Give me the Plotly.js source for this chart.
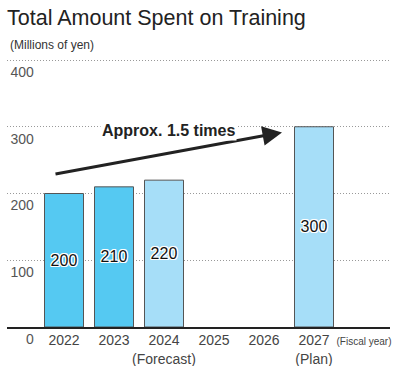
<!DOCTYPE html>
<html>
<head>
<meta charset="utf-8">
<script src="https://cdn.plot.ly/plotly-3.0.1.min.js"></script>
<style>html,body{margin:0;padding:0;background:#fff;}#chart{width:398px;height:366px;}</style>
</head>
<body>
<div id="chart"></div>
<script>
var categories = ['2022', '2023', '2024', '2025', '2026', '2027', 'FY'];
var tickLabels = ['2022', '2023', '2024<br>(Forecast)', '2025', '2026', '2027<br>(Plan)', '<span style="font-size:10px">(Fiscal year)</span>'];
var values = [200, 210, 220, null, null, 300, null];
var barColors = ['#55C9F2', '#55C9F2', '#A6DEF8', '#A6DEF8', '#A6DEF8', '#A6DEF8', '#A6DEF8'];
var yTicks = [0, 100, 200, 300, 400];
var titleText = 'Total Amount Spent on Training';
var unitText = '(Millions of yen)';
var arrowText = 'Approx. 1.5 times';

var font = 'Liberation Sans, Arial, sans-serif';

var trace = {
  type: 'bar',
  x: categories,
  y: values,
  width: 0.78,
  marker: {color: barColors, line: {color: '#555', width: 1}},
  texttemplate: '%{y}',
  textposition: 'inside',
  insidetextanchor: 'middle',
  constraintext: 'none',
  textangle: 0,
  textfont: {family: font, size: 16, color: '#111',
    shadow: '1px 1px 0 #fff, -1px -1px 0 #fff, 1px -1px 0 #fff, -1px 1px 0 #fff, 0 1px 0 #fff, 0 -1px 0 #fff, 1px 0 0 #fff, -1px 0 0 #fff'},
  hoverinfo: 'none'
};

var layout = {
  width: 398, height: 366,
  margin: {l: 7, r: 8, t: 58, b: 39},
  paper_bgcolor: '#fff', plot_bgcolor: '#fff',
  showlegend: false,
  font: {family: font, color: '#444'},
  title: {text: titleText, font: {family: font, size: 21.5, color: '#222'},
    xref: 'container', yref: 'container', x: 7/398, xanchor: 'left', y: 1 - 17/366, yanchor: 'middle'},
  xaxis: {
    type: 'category',
    categoryorder: 'array', categoryarray: categories,
    tickvals: categories, ticktext: tickLabels,
    range: [-1.14, 6.52],
    showgrid: false, zeroline: false,
    showline: true, linecolor: '#222', linewidth: 1.5,
    ticks: '', tickfont: {size: 14, color: '#444'},
    fixedrange: true
  },
  yaxis: {
    range: [0, 403],
    tickvals: yTicks,
    anchor: 'free', position: 0.07,
    showline: false, zeroline: false, ticks: '',
    showgrid: true, gridcolor: '#999', griddash: '1px,2px', gridwidth: 1,
    tickfont: {size: 14, color: '#555'},
    ticklabelshift: 12,
    fixedrange: true
  },
  annotations: [
    {xref: 'paper', yref: 'paper', x: 0, y: 1, xanchor: 'left', yanchor: 'bottom', xshift: 1, yshift: 4,
     text: unitText, showarrow: false, font: {size: 12, color: '#333'}},
    {x: 4.36, y: 291.5, ax: -0.2, ay: 228.7, xref: 'x', yref: 'y', axref: 'x', ayref: 'y',
     text: '', showarrow: true, arrowhead: 2, arrowsize: 1.3, arrowwidth: 3, arrowcolor: '#222'},
    {x: 2.08, y: 294.5, xref: 'x', yref: 'y', text: '<b>' + arrowText + '</b>', showarrow: false,
     bgcolor: '#fff', font: {size: 16, color: '#222'}}
  ]
};

Plotly.newPlot('chart', [trace], layout, {displayModeBar: false, staticPlot: true});
</script>
</body>
</html>
